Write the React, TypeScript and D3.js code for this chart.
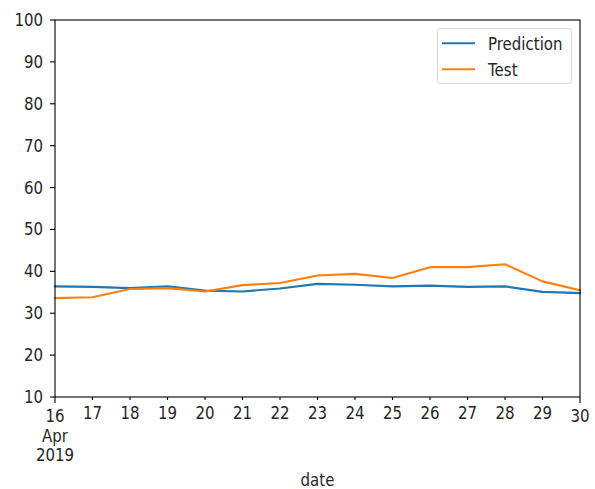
import React from "react";
import * as d3 from "d3";

const dates: string[] = [
  "2019-04-16", "2019-04-17", "2019-04-18", "2019-04-19", "2019-04-20",
  "2019-04-21", "2019-04-22", "2019-04-23", "2019-04-24", "2019-04-25",
  "2019-04-26", "2019-04-27", "2019-04-28", "2019-04-29", "2019-04-30",
];
const prediction: number[] = [36.4, 36.3, 36.0, 36.4, 35.4, 35.2, 35.9, 37.0, 36.8, 36.4, 36.6, 36.3, 36.4, 35.1, 34.8];
const test: number[] = [33.6, 33.8, 35.8, 36.0, 35.2, 36.7, 37.2, 39.0, 39.4, 38.4, 41.0, 41.0, 41.7, 37.6, 35.5];
const yTicks: number[] = [10, 20, 30, 40, 50, 60, 70, 80, 90, 100];
const seriesNames: string[] = ["Prediction", "Test"];
const seriesColors: string[] = ["#1f77b4", "#ff7f0e"];

const W = 595;
const H = 489;
const M = { left: 55, right: 580, top: 20, bottom: 397 };
const FONT = "DejaVu Sans, sans-serif";
const FS = 15;
const STRETCH = 1.15;

// Text anchored at its baseline, slightly stretched vertically.
function Label(props: { x: number; y: number; anchor?: string; children: React.ReactNode }) {
  return (
    <text
      transform={`translate(${props.x},${props.y}) scale(1,${STRETCH})`}
      textAnchor={props.anchor || "start"}
      fontSize={FS}
      fill="#262626"
    >
      {props.children}
    </text>
  );
}

export default function App() {
  const parsed = dates.map((d) => new Date(d + "T00:00:00Z"));
  const x = d3.scaleUtc().domain([parsed[0], parsed[parsed.length - 1]]).range([M.left, M.right]);
  const y = d3.scaleLinear().domain([10, 100]).range([M.bottom, M.top]);

  const line = d3
    .line<number>()
    .x((_, i) => x(parsed[i]))
    .y((v) => y(v));

  const series = [prediction, test];

  return (
    <svg
      width={W}
      height={H}
      style={{ position: "absolute", left: 0, top: 0, background: "#fff" }}
      fontFamily={FONT}
    >
      {/* data lines */}
      {series.map((s, k) => (
        <path
          key={k}
          d={line(s) || ""}
          fill="none"
          stroke={seriesColors[k]}
          strokeWidth={2.1}
          strokeLinejoin="round"
          strokeLinecap="square"
        />
      ))}

      {/* frame */}
      <rect
        x={M.left}
        y={M.top}
        width={M.right - M.left}
        height={M.bottom - M.top}
        fill="none"
        stroke="#000"
        strokeWidth={1.1}
      />

      {/* y axis */}
      {yTicks.map((t) => (
        <g key={t}>
          <line x1={M.left - 5} x2={M.left} y1={y(t)} y2={y(t)} stroke="#000" strokeWidth={1.1} />
          <Label x={M.left - 12} y={y(t) + 6} anchor="end">
            {t}
          </Label>
        </g>
      ))}

      {/* x axis */}
      {parsed.map((d, i) => {
        const major = i === 0 || i === parsed.length - 1;
        const px = x(d);
        return (
          <g key={i}>
            <line
              x1={px}
              x2={px}
              y1={M.bottom}
              y2={M.bottom + (major ? 6 : 3)}
              stroke="#000"
              strokeWidth={1.1}
            />
            <Label x={px} y={major ? 422 : 418.5} anchor="middle">
              {d3.utcFormat("%-d")(d)}
            </Label>
            {i === 0 && (
              <>
                <Label x={px} y={441.5} anchor="middle">
                  {d3.utcFormat("%b")(d)}
                </Label>
                <Label x={px} y={460.5} anchor="middle">
                  {d3.utcFormat("%Y")(d)}
                </Label>
              </>
            )}
          </g>
        );
      })}
      <Label x={(M.left + M.right) / 2} y={486} anchor="middle">
        date
      </Label>

      {/* legend */}
      <rect x={437.5} y={28.5} width={134} height={55} rx={3} fill="#fff" fillOpacity={0.8} stroke="#d9d9d9" />
      {seriesNames.map((name, k) => (
        <g key={name}>
          <line x1={442} x2={475} y1={43.3 + k * 26} y2={43.3 + k * 26} stroke={seriesColors[k]} strokeWidth={2.1} />
          <Label x={488} y={49.5 + k * 26}>
            {name}
          </Label>
        </g>
      ))}
    </svg>
  );
}
